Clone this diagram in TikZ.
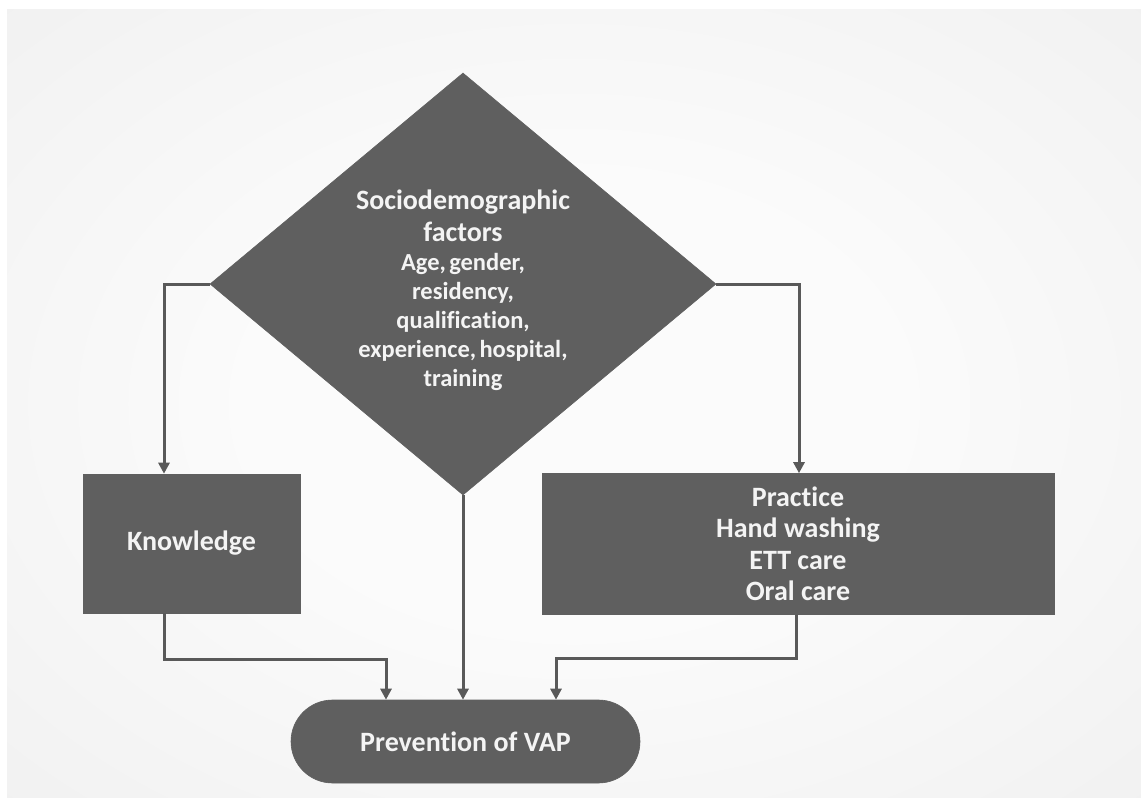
\documentclass[tikz,border=0pt]{standalone}
\usepackage{fontspec}
\setmainfont{Carlito}[Ligatures=NoCommon]
\usetikzlibrary{shapes.geometric,shapes.misc,arrows.meta}
\definecolor{shp}{HTML}{5F5F5F}
\definecolor{ln}{HTML}{595959}
\definecolor{txt}{HTML}{F4F4F4}
\definecolor{bgA}{HTML}{FBFBFB}
\definecolor{bgB}{HTML}{EBEBEB}
\definecolor{bgC}{HTML}{D6D6D6}
\pgfdeclareradialshading{bgshade}{\pgfpoint{0bp}{0bp}}{color(0bp)=(bgA); color(10bp)=(bgA); color(35bp)=(bgB); color(50bp)=(bgC)}
\tikzset{
  boxshape/.style={rectangle, fill=shp, draw=shp, line width=0.6pt, text=txt, inner sep=0pt, align=center,
    font=\bfseries\fontsize{28}{31.5}\selectfont},
  diashape/.style={diamond, fill=shp, draw=shp, line width=0.6pt, inner sep=0pt, aspect=1.2,
    minimum width=506pt, minimum height=422pt},
  diatext/.style={text=txt, inner sep=0pt, text width=250pt, align=center, font=\bfseries},
  termshape/.style={rounded rectangle, fill=shp, draw=shp, line width=0.6pt, text=txt, inner sep=0pt,
    minimum width=349pt, minimum height=83pt, font=\bfseries\fontsize{28}{31.5}\selectfont},
  conn/.style={draw=ln, line width=3pt, -{Triangle[width=11pt,length=11pt]}}
}
\begin{document}
\begin{tikzpicture}[x=1pt,y=-1pt]
\useasboundingbox (0,0) rectangle (1141,798);
\fill[white] (0,0) rectangle (1141,798);
\begin{scope}
\clip (7,9) rectangle (1141,798);
\shade[shading=bgshade] (-228,-154.5) rectangle (1376,961.5);
\end{scope}

\node[diashape] (dia) at (463,284) {};
\node[diatext] (dtext) at (463,290) {\fontsize{28}{32}\selectfont Sociodemographic\\ factors\par
  \fontsize{24.5}{29}\selectfont Age, gender,\\ residency,\\ qualification,\\ experience, hospital,\\ training\par};
\node[boxshape, minimum width=217pt, minimum height=139pt] (know) at (191.5,543.5) {Knowledge};
\node[boxshape, minimum width=512pt, minimum height=141pt] (prac) at (798,544) {Practice\\ Hand washing\\ ETT care\\ Oral care};
\node[termshape] (term) at (465.5,741.5) {Prevention of VAP};

\draw[conn] (dia.west) -| ([xshift=-27.5pt]know.north);
\draw[conn] (dia.east) -| ([xshift=1pt]prac.north);
\draw[conn] (dia.south) -- (dia.south |- term.north);
\draw[conn] ([xshift=-27.5pt]know.south) -- ++(0,-46pt) -| ([xshift=-79.5pt]term.north);
\draw[conn] ([xshift=-2pt]prac.south) -- ++(0,-44pt) -| ([xshift=90.5pt]term.north);
\end{tikzpicture}
\end{document}
